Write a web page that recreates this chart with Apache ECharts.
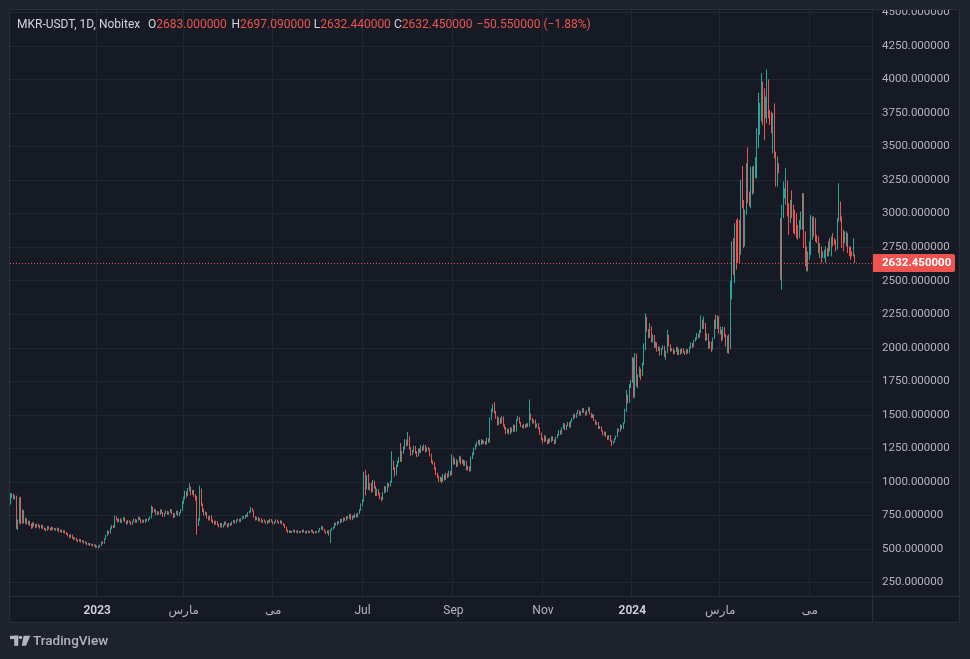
<!DOCTYPE html>
<html>
<head>
<meta charset="utf-8">
<script src="https://cdn.jsdelivr.net/npm/echarts@6/dist/echarts.min.js"></script>
<style>
html,body{margin:0;padding:0;background:#1e222d;overflow:hidden;}
#panel{position:absolute;left:9px;top:9px;width:951px;height:614px;box-sizing:border-box;background:#161a25;border:1px solid #2a2e39;}
#hsep{position:absolute;left:9px;top:596px;width:951px;height:1px;background:#2a2e39;}
#vsep{position:absolute;left:872px;top:9px;width:1px;height:614px;background:#2a2e39;}
#c{position:absolute;left:0;top:0;width:970px;height:659px;}
#clip{position:absolute;left:873px;top:0;width:86px;height:10px;box-sizing:border-box;background:#1e222d;border-bottom:1px solid #2a2e39;z-index:5;}
</style>
</head>
<body>
<div id="panel"></div><div id="hsep"></div><div id="vsep"></div>
<div id="c"></div>
<div id="clip"></div>
<script>
// ---- data (daily candles, MKR-USDT on Nobitex, first day 2022-11-03) ----
const firstDay = [2022, 10, 3];   // year, month (0-based), day
const blankDaysAfter = 11;

const opens = [
850,900,905,885,890,665,700,870,700,780,
700,720,690,705,680,660,690,675,665,680,
670,660,675,655,650,640,665,650,645,660,
645,650,640,655,630,640,625,635,620,615,
600,590,605,585,575,580,565,560,570,555,
560,545,550,535,540,530,535,525,530,515,
520,515,525,550,545,575,600,630,620,655,
670,665,740,720,705,725,700,715,730,705,
690,710,700,685,705,720,700,715,735,720,
700,715,700,720,710,725,735,810,780,790,
760,775,760,790,770,745,765,780,760,775,
790,765,740,760,780,750,770,790,850,880,
920,900,940,960,915,930,900,880,690,720,
945,830,790,760,770,735,720,745,710,700,
690,705,680,670,690,665,680,700,685,670,
690,680,700,710,695,715,720,705,725,740,
730,750,745,770,780,800,785,740,720,735,
710,725,700,715,705,690,710,700,720,705,
690,700,715,700,695,710,690,680,660,640,
625,635,625,630,640,625,635,620,630,625,
640,630,620,635,625,630,640,625,620,630,
625,635,650,665,645,630,620,635,605,640,
650,660,690,680,700,695,720,705,730,715,
740,730,755,720,745,735,760,740,765,790,
830,860,1060,960,1040,950,980,930,1000,960,
905,940,910,880,870,920,960,930,985,970,
1000,1150,1100,1060,1120,1150,1175,1160,1220,1250,
1300,1280,1330,1250,1210,1230,1260,1220,1195,1240,
1225,1260,1240,1270,1230,1250,1245,1200,1150,1140,
1100,1060,1040,1010,1030,1005,1050,1020,1060,1040,
1075,1055,1180,1140,1165,1120,1150,1185,1140,1160,
1130,1150,1095,1110,1085,1180,1210,1245,1270,1290,
1305,1280,1310,1290,1300,1285,1320,1300,1470,1530,
1560,1520,1480,1430,1470,1440,1480,1420,1400,1370,
1390,1360,1400,1375,1420,1380,1460,1480,1440,1420,
1405,1425,1410,1430,1415,1500,1470,1440,1460,1410,
1430,1400,1360,1320,1300,1340,1310,1290,1320,1300,
1335,1310,1290,1330,1350,1380,1360,1400,1430,1390,
1420,1440,1410,1450,1470,1500,1480,1510,1530,1500,
1520,1545,1520,1500,1530,1550,1510,1480,1500,1460,
1430,1440,1400,1410,1380,1350,1370,1340,1320,1345,
1310,1290,1300,1320,1340,1390,1380,1420,1400,1440,
1530,1630,1600,1720,1750,1920,1640,1950,1720,1790,
1830,1800,1880,1990,2220,2130,2080,2150,2050,2090,
2010,2030,1980,2000,1950,1990,2010,1940,1970,2090,
2020,1980,1990,1960,1975,2000,1950,1985,1960,1990,
1970,1955,1985,1960,2000,2030,2010,2050,2070,2100,
2080,2120,2200,2150,2180,2060,2100,2000,2040,1990,
2070,2200,2150,2230,2110,2130,2070,2150,2090,2030,
2080,2000,2480,2780,2560,2900,2940,2930,2700,3220,
3090,2760,3000,3360,3150,3060,3150,3340,3270,3280,
3500,3600,3700,3960,3910,3720,3690,3990,3760,3750,
3460,3810,3450,3210,3370,2960,2580,2970,3120,3070,
3240,3070,2930,3165,3060,3020,2995,2910,2820,2885,
2885,3145,2860,2750,2575,2660,2700,2810,2970,2960,
2835,2820,2675,2750,2670,2670,2640,2740,2690,2805,
2690,2850,2815,2800,2740,2950,3080,2975,2875,2785,
2760,2850,2750,2750,2710,2690,2683
];

const closes = [
900,905,885,890,665,700,870,700,780,700,
720,690,705,680,660,690,675,665,680,670,
660,675,655,650,640,665,650,645,660,645,
650,640,655,630,640,625,635,620,615,600,
590,605,585,575,580,565,560,570,555,560,
545,550,535,540,530,535,525,530,515,520,
515,525,550,545,575,600,630,620,655,670,
665,740,720,705,725,700,715,730,705,690,
710,700,685,705,720,700,715,735,720,700,
715,700,720,710,725,735,810,780,790,760,
775,760,790,770,745,765,780,760,775,790,
765,740,760,780,750,770,790,850,880,920,
900,940,960,915,930,900,880,690,720,945,
830,790,760,770,735,720,745,710,700,690,
705,680,670,690,665,680,700,685,670,690,
680,700,710,695,715,720,705,725,740,730,
750,745,770,780,800,785,740,720,735,710,
725,700,715,705,690,710,700,720,705,690,
700,715,700,695,710,690,680,660,640,625,
635,625,630,640,625,635,620,630,625,640,
630,620,635,625,630,640,625,620,630,625,
635,650,665,645,630,620,635,605,640,650,
660,690,680,700,695,720,705,730,715,740,
730,755,720,745,735,760,740,765,790,830,
860,1060,960,1040,950,980,930,1000,960,905,
940,910,880,870,920,960,930,985,970,1000,
1150,1100,1060,1120,1150,1175,1160,1220,1250,1300,
1280,1330,1250,1210,1230,1260,1220,1195,1240,1225,
1260,1240,1270,1230,1250,1245,1200,1150,1140,1100,
1060,1040,1010,1030,1005,1050,1020,1060,1040,1075,
1055,1180,1140,1165,1120,1150,1185,1140,1160,1130,
1150,1095,1110,1085,1180,1210,1245,1270,1290,1305,
1280,1310,1290,1300,1285,1320,1300,1470,1530,1560,
1520,1480,1430,1470,1440,1480,1420,1400,1370,1390,
1360,1400,1375,1420,1380,1460,1480,1440,1420,1405,
1425,1410,1430,1415,1500,1470,1440,1460,1410,1430,
1400,1360,1320,1300,1340,1310,1290,1320,1300,1335,
1310,1290,1330,1350,1380,1360,1400,1430,1390,1420,
1440,1410,1450,1470,1500,1480,1510,1530,1500,1520,
1545,1520,1500,1530,1550,1510,1480,1500,1460,1430,
1440,1400,1410,1380,1350,1370,1340,1320,1345,1310,
1290,1300,1320,1340,1390,1380,1420,1400,1440,1530,
1630,1600,1720,1750,1920,1640,1950,1720,1790,1830,
1800,1880,1990,2220,2130,2080,2150,2050,2090,2010,
2030,1980,2000,1950,1990,2010,1940,1970,2090,2020,
1980,1990,1960,1975,2000,1950,1985,1960,1990,1970,
1955,1985,1960,2000,2030,2010,2050,2070,2100,2080,
2120,2200,2150,2180,2060,2100,2000,2040,1990,2070,
2200,2150,2230,2110,2130,2070,2150,2090,2030,2080,
1990,2470,2780,2560,2910,2610,2650,2660,3220,3050,
2760,3010,3360,3090,3060,3330,3340,3160,3410,3620,
3880,3810,4030,3680,3570,3860,4050,3720,3670,3610,
3740,3420,3210,3410,3305,2580,3060,3230,3185,3330,
2990,2850,3095,2975,2860,2850,2825,2810,2945,3005,
3145,2750,2615,2575,2710,2785,2980,2970,2835,2800,
2785,2710,2775,2640,2715,2725,2750,2690,2785,2720,
2820,2760,2770,2720,2960,3080,2950,2750,2725,2860,
2860,2710,2690,2665,2690,2780,2632.45
];

const lows = [
831,880,870,870,650,640,690,682,690,690,
688,682,680,672,650,655,668,655,660,662,
652,655,648,640,632,636,645,638,640,640,
640,635,636,624,626,620,620,615,605,595,
580,585,578,565,570,558,552,555,548,550,
540,540,528,530,522,525,518,520,508,510,
505,512,522,538,540,570,595,610,615,650,
655,660,712,698,700,695,695,710,700,682,
685,695,678,680,700,695,695,712,715,692,
695,695,696,705,705,720,728,770,775,755,
752,755,755,765,740,740,760,755,755,770,
760,730,735,755,745,745,765,785,835,870,
885,895,930,900,905,890,860,607,670,710,
820,775,750,752,728,712,715,702,690,680,
682,675,660,665,655,660,675,678,660,665,
672,676,695,688,690,710,700,700,720,725,
726,740,740,765,772,780,735,712,715,705,
705,695,695,700,685,686,695,695,700,685,
684,696,695,688,690,685,672,655,632,618,
620,620,620,626,620,622,615,618,620,620,
625,615,616,620,620,626,620,612,616,620,
620,630,645,640,625,612,615,600,545,635,
645,655,675,676,690,690,700,700,710,710,
722,725,715,715,730,730,735,735,760,785,
820,850,900,945,940,935,920,925,950,895,
895,900,872,855,865,915,920,925,960,965,
995,1090,1040,1050,1110,1140,1150,1150,1210,1240,
1265,1270,1240,1195,1200,1220,1210,1185,1190,1215,
1215,1230,1235,1220,1225,1235,1190,1140,1130,1090,
1050,1030,1000,1002,990,1000,1010,1015,1030,1035,
1045,1050,1130,1130,1110,1115,1145,1130,1135,1120,
1120,1085,1088,1078,1080,1170,1200,1238,1262,1280,
1270,1275,1282,1285,1275,1280,1292,1295,1460,1520,
1510,1470,1420,1425,1432,1435,1412,1390,1355,1362,
1353,1355,1368,1370,1375,1375,1455,1435,1410,1398,
1400,1402,1405,1410,1410,1460,1435,1435,1400,1405,
1392,1350,1310,1288,1295,1302,1280,1285,1292,1296,
1305,1280,1285,1325,1345,1352,1355,1395,1385,1385,
1415,1405,1405,1445,1465,1475,1475,1505,1495,1495,
1515,1515,1495,1496,1525,1505,1475,1476,1455,1425,
1425,1395,1395,1375,1345,1345,1335,1312,1315,1300,
1266,1282,1295,1315,1335,1375,1375,1395,1395,1435,
1520,1585,1590,1700,1740,1623,1630,1710,1700,1780,
1760,1790,1870,1983,2120,2070,2075,2040,2040,2000,
2000,1970,1975,1940,1945,1985,1930,1910,1960,2010,
1970,1975,1950,1955,1970,1946,1945,1950,1955,1960,
1946,1950,1955,1958,1995,2000,2005,2045,2060,2070,
2075,2110,2140,2140,2050,2055,1990,1995,1970,1985,
2065,2140,2140,2105,2100,2046,2060,2080,2010,1960,
1955,1990,2360,2544,2482,2582,2631,2631,2693,3040,
2743,2755,2991,3077,3052,3040,3140,3152,3263,3263,
3487,3586,3685,3660,3549,3710,3673,3710,3660,3598,
3450,3412,3201,3201,3300,2507,2432,2966,3114,3065,
2978,2842,2929,2966,2854,2842,2817,2805,2817,2879,
2879,2743,2606,2569,2569,2656,2693,2805,2829,2792,
2780,2705,2668,2631,2668,2668,2631,2681,2681,2718,
2681,2755,2767,2718,2730,2941,2941,2743,2718,2780,
2755,2705,2681,2656,2681,2681,2632.44
];

const highs = [
918,915,912,900,898,720,885,890,795,790,
735,728,712,710,690,700,698,685,690,688,
678,682,680,662,656,672,670,658,668,664,
658,655,660,658,645,645,640,640,626,620,
606,612,608,590,586,585,570,576,574,565,
566,556,555,545,546,540,538,535,534,525,
526,532,556,556,580,606,640,636,662,680,
678,748,745,725,730,730,720,738,735,710,
716,715,705,710,728,725,720,742,740,725,
720,718,725,726,730,742,824,815,800,795,
782,780,796,795,775,770,790,785,780,798,
795,770,765,786,785,775,798,860,890,935,
930,955,990,965,940,940,910,895,730,973,
950,840,800,780,775,745,750,750,720,710,
712,708,688,695,694,685,706,705,690,695,
695,705,716,714,720,726,725,730,746,745,
756,758,775,788,814,805,790,745,740,738,
730,728,718,720,710,714,715,725,724,710,
705,722,718,705,715,712,694,684,665,645,
640,638,635,645,644,638,640,635,634,645,
645,634,638,640,634,646,643,630,635,634,
640,656,672,670,650,634,640,640,645,658,
668,698,696,706,708,726,725,735,735,746,
745,762,760,750,752,765,764,770,798,840,
870,1075,1090,1050,1060,990,995,1015,1010,970,
950,945,920,890,925,970,965,995,990,1010,
1229,1160,1110,1130,1160,1185,1290,1230,1265,1320,
1315,1373,1340,1260,1240,1270,1268,1230,1250,1250,
1275,1265,1280,1275,1258,1260,1250,1210,1160,1148,
1110,1070,1048,1040,1035,1060,1055,1068,1065,1085,
1082,1205,1190,1175,1170,1158,1195,1190,1168,1165,
1160,1155,1120,1115,1190,1220,1255,1280,1300,1315,
1312,1318,1315,1308,1305,1330,1325,1480,1545,1580,
1595,1530,1490,1480,1478,1490,1488,1430,1410,1398,
1395,1408,1405,1428,1425,1468,1490,1485,1448,1425,
1432,1430,1436,1438,1615,1510,1478,1465,1465,1436,
1438,1405,1368,1328,1348,1345,1315,1326,1325,1340,
1340,1316,1336,1358,1388,1385,1405,1440,1436,1425,
1448,1445,1456,1476,1508,1505,1515,1538,1535,1526,
1552,1550,1525,1535,1560,1555,1515,1505,1505,1465,
1448,1445,1416,1415,1385,1375,1375,1345,1350,1350,
1315,1305,1326,1345,1400,1395,1430,1425,1445,1545,
1685,1650,1730,1760,1930,1925,1960,1955,1800,1860,
1845,1890,2033,2257,2230,2140,2183,2160,2100,2095,
2045,2040,2010,2008,1998,2020,2015,1978,2133,2095,
2025,1998,1995,1982,2008,2005,1990,1990,1998,1995,
1976,1990,1990,2008,2040,2036,2058,2078,2110,2105,
2133,2240,2210,2233,2185,2108,2105,2048,2045,2075,
2210,2245,2240,2235,2158,2135,2158,2155,2100,2090,
2100,2500,2792,2817,2929,2953,2966,2953,3251,3355,
3102,3028,3375,3494,3164,3350,3350,3355,3420,3635,
3900,3826,4045,3983,3933,3871,4074,4000,3772,3760,
3747,3821,3462,3425,3375,2966,3065,3239,3189,3338,
3246,3077,3102,3172,3065,3028,3003,2916,2953,3015,
3152,3152,2867,2755,2718,2792,2990,2978,2978,2966,
2842,2829,2780,2755,2718,2730,2755,2743,2792,2817,
2829,2854,2817,2805,2966,3226,3090,2978,2879,2867,
2867,2854,2755,2755,2718,2817,2697.09
];

const tickDates  = ['2023-01-01','2023-03-01','2023-05-01','2023-07-01','2023-09-01','2023-11-01','2024-01-01','2024-03-01','2024-05-01'];
const tickLabels = ['2023','مارس','می','Jul','Sep','Nov','2024','مارس','می'];
const priceTicks = [250,500,750,1000,1250,1500,1750,2000,2250,2500,2750,3000,3250,3500,3750,4000,4250,4500];
const priceMin = 150, priceMax = 4517;

const headerSymbol = 'MKR-USDT, 1D, Nobitex';
const headerO = '2683.000000', headerH = '2697.090000', headerL = '2632.440000', headerC = '2632.450000';
const headerChange = '\u221250.550000 (\u22121.88%)';
const lastPrice = 2632.45;

// ---- build ----
const dates = [];
const t0 = Date.UTC(firstDay[0], firstDay[1], firstDay[2]);
for (let i = 0; i < closes.length + blankDaysAfter; i++) {
  dates.push(new Date(t0 + i * 86400000).toISOString().slice(0, 10));
}
const ohlc = closes.map((c, i) => [opens[i], c, Math.min(lows[i], opens[i], c), Math.max(highs[i], opens[i], c)]);
const tickMap = {};
tickDates.forEach((d, i) => { tickMap[d] = tickLabels[i]; });

const UP = '#26a69a', DOWN = '#ef5350';
const FONT = 'Roboto, "DejaVu Sans", sans-serif';

const chart = echarts.init(document.getElementById('c'), null, {renderer: 'canvas', width: 970, height: 659});
chart.setOption({
  backgroundColor: 'transparent',
  animation: false,
  grid: {left: 10, right: 98, top: 10, bottom: 63, containLabel: false},
  xAxis: {
    type: 'category',
    data: dates,
    boundaryGap: true,
    axisLine: {show: false},
    axisTick: {show: false},
    axisLabel: {
      interval: (idx, val) => tickMap[val] !== undefined,
      formatter: (val) => {
        const t = tickMap[val];
        if (t === undefined) return '';
        return /^\d{4}$/.test(t) ? '{y|' + t + '}' : '{m|' + t + '}';
      },
      margin: 9,
      rich: {
        y: {color: '#d1d4dc', fontSize: 12, fontWeight: 600, fontFamily: FONT},
        m: {color: '#b2b5be', fontSize: 12, fontFamily: FONT}
      }
    },
    splitLine: {
      show: true,
      interval: (idx, val) => tickMap[val] !== undefined,
      lineStyle: {color: '#232733', width: 1}
    }
  },
  yAxis: {
    type: 'value',
    position: 'right',
    min: priceMin,
    max: priceMax,
    axisLine: {show: false},
    axisTick: {show: false, customValues: priceTicks},
    axisLabel: {
      customValues: priceTicks,
      formatter: (v) => Number(v).toFixed(6),
      color: '#b2b5be',
      fontSize: 11.5,
      fontFamily: FONT,
      margin: 10,
      align: 'left'
    },
    splitLine: {show: true, lineStyle: {color: '#232733', width: 1}}
  },
  series: [{
    type: 'candlestick',
    data: ohlc,
    barWidth: 0.9,
    itemStyle: {color: UP, color0: DOWN, borderColor: UP, borderColor0: DOWN, borderWidth: 1},
    markLine: {
      silent: true,
      symbol: 'none',
      animation: false,
      label: {show: false},
      lineStyle: {color: DOWN, type: [1, 2], width: 1},
      data: [{yAxis: lastPrice}]
    }
  }]
});

const py = chart.convertToPixel({yAxisIndex: 0}, lastPrice);
chart.setOption({
  graphic: [
    {type: 'text', x: 17, y: 24.5, style: {text: headerSymbol, fill: '#d1d4dc', font: '12px ' + FONT, verticalAlign: 'middle'}},
    {type: 'text', x: 148, y: 24.5, style: {text: '{l|O}{v|' + headerO + '}', font: '12px ' + FONT, verticalAlign: 'middle', rich: {l: {fill: '#d1d4dc', font: '12px ' + FONT}, v: {fill: DOWN, font: '12px ' + FONT}}}},
    {type: 'text', x: 231.5, y: 24.5, style: {text: '{l|H}{v|' + headerH + '}', font: '12px ' + FONT, verticalAlign: 'middle', rich: {l: {fill: '#d1d4dc', font: '12px ' + FONT}, v: {fill: DOWN, font: '12px ' + FONT}}}},
    {type: 'text', x: 313.8, y: 24.5, style: {text: '{l|L}{v|' + headerL + '}', font: '12px ' + FONT, verticalAlign: 'middle', rich: {l: {fill: '#d1d4dc', font: '12px ' + FONT}, v: {fill: DOWN, font: '12px ' + FONT}}}},
    {type: 'text', x: 394, y: 24.5, style: {text: '{l|C}{v|' + headerC + '}', font: '12px ' + FONT, verticalAlign: 'middle', rich: {l: {fill: '#d1d4dc', font: '12px ' + FONT}, v: {fill: DOWN, font: '12px ' + FONT}}}},
    {type: 'text', x: 476.5, y: 24.5, style: {text: headerChange, fill: DOWN, font: '12px ' + FONT, verticalAlign: 'middle'}},
    // last price tag on the price scale
    {type: 'rect', shape: {x: 873, y: py - 9, width: 82, height: 18, r: [0, 2, 2, 0]}, style: {fill: DOWN}, z: 10},
    {type: 'text', x: 882, y: py, z: 11, style: {text: lastPrice.toFixed(6), fill: '#ffffff', font: 'bold 11.5px ' + FONT, verticalAlign: 'middle'}},
    // footer logo
    {type: 'rect', shape: {x: 10, y: 635.7, width: 8.3, height: 3.4}, style: {fill: '#b2b5be'}},
    {type: 'rect', shape: {x: 14.2, y: 635.7, width: 4.1, height: 10.1}, style: {fill: '#b2b5be'}},
    {type: 'circle', shape: {cx: 20.6, cy: 637.4, r: 1.7}, style: {fill: '#b2b5be'}},
    {type: 'polygon', shape: {points: [[23.6, 635.7], [30.3, 635.7], [26, 645.8], [21.8, 645.8]]}, style: {fill: '#b2b5be'}},
    {type: 'text', x: 33, y: 641.5, style: {text: 'TradingView', fill: '#b2b5be', font: '500 13.5px ' + FONT, verticalAlign: 'middle'}}
  ]
});
</script>
</body>
</html>
